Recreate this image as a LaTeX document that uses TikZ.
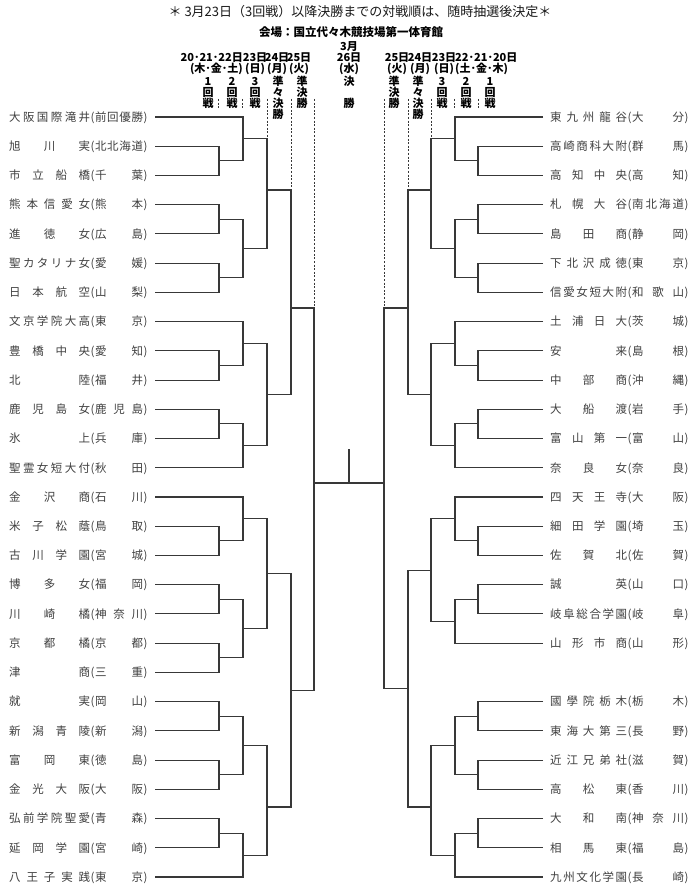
\documentclass[tikz,border=0pt]{standalone}
\usepackage{fontspec}
\setmainfont{Noto Sans CJK JP}
\usetikzlibrary{calc}
\definecolor{ln}{HTML}{383838}
\definecolor{tx}{HTML}{404040}
\newcommand\spreadbox[2]{\makebox[#1][s]{\spreadloop#2\relax}}
\def\spreadloop#1#2{#1\ifx\relax#2\else\hfill\expandafter\spreadloop\expandafter#2\fi}
\newcommand\mt[4]{%
  \coordinate (#4a) at (#1 -| #3);
  \coordinate (#4b) at (#2 -| #3);
  \draw[brk] (#1) -- (#4a) -- (#4b) -- (#2);
  \coordinate (#4) at ($(#4a)!0.5!(#4b)$);}
\newcommand\mty[5]{%
  \coordinate (#4a) at (#1 -| #3);
  \coordinate (#4b) at (#2 -| #3);
  \draw[brk] (#1) -- (#4a) -- (#4b) -- (#2);
  \path (#3) ++(0,#5) coordinate (#4);}
\newcommand\tmL[3]{\node[team] (nL#1) at (9,{117+29.23*#1}) {\spreadbox{81pt}{#2}\hspace{0.5pt}(\hspace{0.5pt}\spreadbox{48pt}{#3}\hspace{0.5pt})};}
\newcommand\tmR[3]{\node[team] (nR#1) at (550,{117+29.23*#1}) {\spreadbox{77pt}{#2}\hspace{0.5pt}(\hspace{0.5pt}\spreadbox{52pt}{#3}\hspace{0.5pt})};}
\newcommand\hcol[3]{\foreach \c [count=\k] in {#3} {\node[hd] (#1-\k) at (#2,{71+10.8*\k}) {\c};}}
\begin{document}
\begin{tikzpicture}[x=1pt,y=-1pt,
  brk/.style={draw=ln,line width=1.05pt},
  dsh/.style={draw=ln,line width=0.85pt,dash pattern=on 2pt off 1.6pt},
  team/.style={inner sep=0,anchor=west,text=tx,font=\fontsize{11.5}{12}\selectfont,text height=10pt,text depth=1.5pt},
  hd/.style={inner sep=0,font=\fontsize{11}{11}\selectfont\bfseries,text height=9.7pt,text depth=1.3pt},
  dt/.style={inner sep=0,font=\fontsize{11}{11}\selectfont\bfseries,text height=9.7pt,text depth=1.3pt}]
\fill[white] (0,0) rectangle (700,896);
\useasboundingbox (0,0) rectangle (700,896);
% titles
\node[inner sep=0,font=\fontsize{13}{14}\selectfont,text=black!90] (title) at (360,12) {＊ 3月23日（3回戦）以降決勝までの対戦順は、随時抽選後決定＊};
\node[inner sep=0,font=\fontsize{11.5}{12}\selectfont\bfseries] (venue) at (351,32) {会場：国立代々木競技場第一体育館};
% date rows
\node[dt,anchor=east] (dL0) at (243,57) {20･21･22日};
\node[dt] (dL3) at (255,57) {23日};
\node[dt] (dL4) at (277,57) {24日};
\node[dt] (dL5) at (299,57) {25日};
\node[dt,anchor=east] (wL0) at (243,68) {(木･金･土)};
\node[dt] (wL3) at (255,68) {(日)};
\node[dt] (wL4) at (277,68) {(月)};
\node[dt] (wL5) at (299,68) {(火)};
\node[dt] (dF0) at (349,46) {3月};
\node[dt] (dF1) at (349,57) {26日};
\node[dt] (dF2) at (349,68) {(水)};
\node[dt] (dR5) at (397,57) {25日};
\node[dt] (dR4) at (420,57) {24日};
\node[dt] (dR3) at (444,57) {23日};
\node[dt,anchor=west] (dR0) at (455,57) {22･21･20日};
\node[dt] (wR5) at (397,68) {(火)};
\node[dt] (wR4) at (420,68) {(月)};
\node[dt] (wR3) at (444,68) {(日)};
\node[dt,anchor=west] (wR0) at (455,68) {(土･金･木)};
% round columns
\hcol{hL1}{208}{1,回,戦}
\hcol{hL2}{232}{2,回,戦}
\hcol{hL3}{255}{3,回,戦}
\hcol{hL4}{278}{準,々,決,勝}
\hcol{hL5}{302}{準,決,勝}
\hcol{hR5}{394}{準,決,勝}
\hcol{hR4}{418}{準,々,決,勝}
\hcol{hR3}{442}{3,回,戦}
\hcol{hR2}{466}{2,回,戦}
\hcol{hR1}{490}{1,回,戦}
\node[hd] (hF1) at (349,81.8) {決};
\node[hd] (hF2) at (349,103.4) {勝};
% teams left
\tmL{0}{大阪国際滝井}{前回優勝}
\tmL{1}{旭川実}{北北海道}
\tmL{2}{市立船橋}{千葉}
\tmL{3}{熊本信愛女}{熊本}
\tmL{4}{進徳女}{広島}
\tmL{5}{聖カタリナ女}{愛媛}
\tmL{6}{日本航空}{山梨}
\tmL{7}{文京学院大高}{東京}
\tmL{8}{豊橋中央}{愛知}
\tmL{9}{北陸}{福井}
\tmL{10}{鹿児島女}{鹿児島}
\tmL{11}{氷上}{兵庫}
\tmL{12}{聖霊女短大付}{秋田}
\tmL{13}{金沢商}{石川}
\tmL{14}{米子松蔭}{鳥取}
\tmL{15}{古川学園}{宮城}
\tmL{16}{博多女}{福岡}
\tmL{17}{川崎橘}{神奈川}
\tmL{18}{京都橘}{京都}
\tmL{19}{津商}{三重}
\tmL{20}{就実}{岡山}
\tmL{21}{新潟青陵}{新潟}
\tmL{22}{富岡東}{徳島}
\tmL{23}{金光大阪}{大阪}
\tmL{24}{弘前学院聖愛}{青森}
\tmL{25}{延岡学園}{宮崎}
\tmL{26}{八王子実践}{東京}
% teams right
\tmR{0}{東九州龍谷}{大分}
\tmR{1}{高崎商科大附}{群馬}
\tmR{2}{高知中央}{高知}
\tmR{3}{札幌大谷}{南北海道}
\tmR{4}{島田商}{静岡}
\tmR{5}{下北沢成徳}{東京}
\tmR{6}{信愛女短大附}{和歌山}
\tmR{7}{土浦日大}{茨城}
\tmR{8}{安来}{島根}
\tmR{9}{中部商}{沖縄}
\tmR{10}{大船渡}{岩手}
\tmR{11}{富山第一}{富山}
\tmR{12}{奈良女}{奈良}
\tmR{13}{四天王寺}{大阪}
\tmR{14}{細田学園}{埼玉}
\tmR{15}{佐賀北}{佐賀}
\tmR{16}{誠英}{山口}
\tmR{17}{岐阜総合学園}{岐阜}
\tmR{18}{山形市商}{山形}
\tmR{20}{國學院栃木}{栃木}
\tmR{21}{東海大第三}{長野}
\tmR{22}{近江兄弟社}{滋賀}
\tmR{23}{高松東}{香川}
\tmR{24}{大和南}{神奈川}
\tmR{25}{相馬東}{福島}
\tmR{26}{九州文化学園}{長崎}
% coordinates
\foreach \i in {0,...,26}{\coordinate (tl\i) at (155,{117+29.23*\i}); \coordinate (tr\i) at (543,{117+29.23*\i});}
\coordinate (cL1) at (219,0); \coordinate (cL2) at (243,0); \coordinate (cL3) at (267,0);
\coordinate (cL4) at (291,0); \coordinate (cL5) at (314,0);
\coordinate (cR1) at (478,0); \coordinate (cR2) at (455,0); \coordinate (cR3) at (431,0);
\coordinate (cR4) at (408,0); \coordinate (cR5) at (384,0);
% left bracket
\mt{tl1}{tl2}{cL1}{La12}
\mt{tl3}{tl4}{cL1}{La34}
\mt{tl5}{tl6}{cL1}{La56}
\mt{tl0}{La12}{cL2}{Lb1}
\mt{La34}{La56}{cL2}{Lb2}
\mty{Lb1}{Lb2}{cL3}{Lc1}{190}
\mt{tl8}{tl9}{cL1}{La89}
\mt{tl10}{tl11}{cL1}{La1011}
\mt{tl7}{La89}{cL2}{Lb3}
\mt{La1011}{tl12}{cL2}{Lb4}
\mt{Lb3}{Lb4}{cL3}{Lc2}
\mt{tl14}{tl15}{cL1}{La1415}
\mt{tl16}{tl17}{cL1}{La1617}
\mt{tl18}{tl19}{cL1}{La1819}
\mt{tl13}{La1415}{cL2}{Lb5}
\mt{La1617}{La1819}{cL2}{Lb6}
\mt{Lb5}{Lb6}{cL3}{Lc3}
\mt{tl20}{tl21}{cL1}{La2021}
\mt{tl22}{tl23}{cL1}{La2223}
\mt{tl24}{tl25}{cL1}{La2425}
\mt{La2021}{La2223}{cL2}{Lb7}
\mt{La2425}{tl26}{cL2}{Lb8}
\mty{Lb7}{Lb8}{cL3}{Lc4}{807}
\mty{Lc1}{Lc2}{cL4}{Lq1}{308}
\mt{Lc3}{Lc4}{cL4}{Lq2}
\mty{Lq1}{Lq2}{cL5}{Ls}{483}
% right bracket
\mt{tr1}{tr2}{cR1}{Ra12}
\mt{tr3}{tr4}{cR1}{Ra34}
\mt{tr5}{tr6}{cR1}{Ra56}
\mt{tr0}{Ra12}{cR2}{Rb1}
\mt{Ra34}{Ra56}{cR2}{Rb2}
\mty{Rb1}{Rb2}{cR3}{Rc1}{190}
\mt{tr8}{tr9}{cR1}{Ra89}
\mt{tr10}{tr11}{cR1}{Ra1011}
\mt{tr7}{Ra89}{cR2}{Rb3}
\mt{Ra1011}{tr12}{cR2}{Rb4}
\mt{Rb3}{Rb4}{cR3}{Rc2}
\mt{tr14}{tr15}{cR1}{Ra1415}
\mt{tr16}{tr17}{cR1}{Ra1617}
\mt{tr13}{Ra1415}{cR2}{Rb5}
\mt{Ra1617}{tr18}{cR2}{Rb6}
\mt{Rb5}{Rb6}{cR3}{Rc3}
\mt{tr20}{tr21}{cR1}{Ra2021}
\mt{tr22}{tr23}{cR1}{Ra2223}
\mt{tr24}{tr25}{cR1}{Ra2425}
\mt{Ra2021}{Ra2223}{cR2}{Rb7}
\mt{Ra2425}{tr26}{cR2}{Rb8}
\mty{Rb7}{Rb8}{cR3}{Rc4}{807}
\mty{Rc1}{Rc2}{cR4}{Rq1}{308}
\mt{Rc3}{Rc4}{cR4}{Rq2}
\mty{Rq1}{Rq2}{cR5}{Rs}{483}
% final
\draw[brk] (Ls) -- (Rs);
\coordinate (fin) at ($(Ls)!0.5!(Rs)$);
\coordinate (champ) at (349,449);
\draw[brk] (fin) -- (champ);
% dashed column separators
\coordinate (dl1t) at (218,99); \coordinate (dl1b) at (218,108);
\coordinate (dl2t) at (242,99); \coordinate (dl2b) at (242,108);
\coordinate (dl3t) at (267,99); \coordinate (dl4t) at (291,99); \coordinate (dl5t) at (314,99);
\coordinate (dr1t) at (478,99); \coordinate (dr1b) at (478,108);
\coordinate (dr2t) at (454,99); \coordinate (dr2b) at (454,108);
\coordinate (dr3t) at (431,99); \coordinate (dr4t) at (408,99); \coordinate (dr5t) at (384,99);
\draw[dsh] (dl1t) -- (dl1b);
\draw[dsh] (dl2t) -- (dl2b);
\draw[dsh] (dl3t) -- (Lc1a);
\draw[dsh] (dl4t) -- (Lq1a);
\draw[dsh] (dl5t) -- (Lsa);
\draw[dsh] (dr1t) -- (dr1b);
\draw[dsh] (dr2t) -- (dr2b);
\draw[dsh] (dr3t) -- (Rc1a);
\draw[dsh] (dr4t) -- (Rq1a);
\draw[dsh] (dr5t) -- (Rsa);
\end{tikzpicture}
\end{document}
